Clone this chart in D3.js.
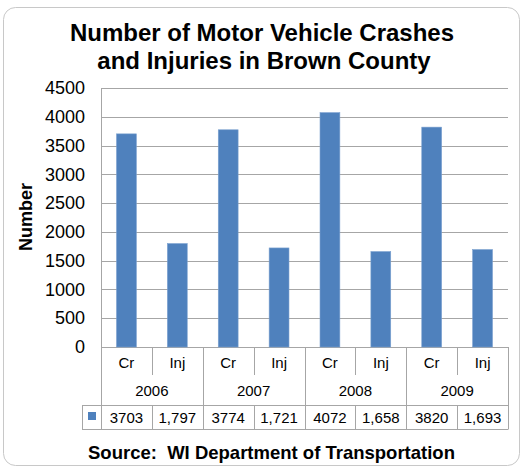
<!DOCTYPE html>
<html><head><meta charset="utf-8">
<script src="https://cdn.jsdelivr.net/npm/d3@7"></script>
<style>body{margin:0;background:#fff}svg{display:block}text{font-family:"Liberation Sans",Arial,sans-serif}</style>
</head><body><svg id="c" width="522" height="469"></svg>
<script>
const years = ["2006","2007","2008","2009"];
const kinds = ["Cr","Inj"];
const values = [3703,1797,3774,1721,4072,1658,3820,1693];
const valueLabels = ["3703","1,797","3774","1,721","4072","1,658","3820","1,693"];
const yTicks = [0,500,1000,1500,2000,2500,3000,3500,4000,4500];

const svg = d3.select("#c");
const L=101, R=508, T=88, B=347;
const cats = years.flatMap(y=>kinds.map(k=>y+"|"+k));
const x = d3.scaleBand().domain(cats).range([L,R]);
const xg = d3.scaleBand().domain(years).range([L,R]);
const y = d3.scaleLinear().domain([0,4500]).range([B,T]);
const grid="#a6a6a6";

svg.append("rect").attr("x",3.5).attr("y",7.5).attr("width",516).attr("height",458).attr("rx",12)
  .attr("fill","#fff").attr("stroke","#c8c8c8");

svg.append("text").attr("x",262).attr("y",41).attr("text-anchor","middle").attr("font-size",24).attr("font-weight","bold").text("Number of Motor Vehicle Crashes");
svg.append("text").attr("x",264).attr("y",69).attr("text-anchor","middle").attr("font-size",24).attr("font-weight","bold").text("and Injuries in Brown County");

// gridlines
svg.append("g").selectAll("line").data(yTicks).join("line")
  .attr("x1",L).attr("x2",R).attr("y1",d=>Math.round(y(d))+0.5).attr("y2",d=>Math.round(y(d))+0.5)
  .attr("stroke",grid);
// y axis
const ya = svg.append("g").attr("transform",`translate(${L},0)`).call(d3.axisLeft(y).tickValues(yTicks).tickFormat(d3.format("d")).tickSize(0).tickPadding(16));
ya.select(".domain").remove();
ya.selectAll("text").attr("font-size",18).attr("fill","#000").attr("font-family","Liberation Sans, Arial, sans-serif");
svg.append("line").attr("x1",L+0.5).attr("x2",L+0.5).attr("y1",T).attr("y2",429).attr("stroke",grid);

svg.append("text").attr("transform","translate(32,217) rotate(-90)").attr("text-anchor","middle")
  .attr("font-size",18).attr("font-weight","bold").text("Number");

// bars
const bw = x.bandwidth()*0.39;
svg.append("g").selectAll("rect").data(values).join("rect")
  .attr("x",(d,i)=>x(cats[i])+(x.bandwidth()-bw)/2).attr("width",bw)
  .attr("y",d=>y(d)).attr("height",d=>B-y(d))
  .attr("fill","#4f81bd").attr("stroke","#7aa0cf").attr("stroke-width",0.6);

// table
const tb = svg.append("g");
const rowCatB=375, rowYearB=405, rowDataB=429;
cats.forEach((c,i)=>{
  const xx=Math.round(x(c))+0.5;
  if(i%2===1) tb.append("line").attr("x1",xx).attr("x2",xx).attr("y1",B).attr("y2",rowCatB).attr("stroke",grid);
});
years.forEach((yr,i)=>{
  if(i>0){const xx=Math.round(xg(yr))+0.5; tb.append("line").attr("x1",xx).attr("x2",xx).attr("y1",B).attr("y2",rowYearB).attr("stroke",grid);}
});
tb.append("line").attr("x1",R+0.5).attr("x2",R+0.5).attr("y1",B).attr("y2",rowDataB).attr("stroke",grid);
tb.append("line").attr("x1",82).attr("x2",R+0.5).attr("y1",rowYearB+0.5).attr("y2",rowYearB+0.5).attr("stroke",grid);
tb.append("line").attr("x1",82).attr("x2",R+0.5).attr("y1",rowDataB+0.5).attr("y2",rowDataB+0.5).attr("stroke",grid);
tb.append("line").attr("x1",82.5).attr("x2",82.5).attr("y1",rowYearB).attr("y2",rowDataB).attr("stroke",grid);
cats.forEach((c,i)=>{
  if(i>0){const xx=Math.round(x(c))+0.5; tb.append("line").attr("x1",xx).attr("x2",xx).attr("y1",rowYearB).attr("y2",rowDataB).attr("stroke",grid);}
});
tb.append("rect").attr("x",88).attr("y",412).attr("width",8).attr("height",8).attr("fill","#4f81bd");
tb.selectAll("text.k").data(cats).join("text").attr("class","k")
  .attr("x",c=>x(c)+x.bandwidth()/2).attr("y",368).attr("text-anchor","middle").attr("font-size",15).text(c=>c.split("|")[1]);
tb.selectAll("text.yr").data(years).join("text").attr("class","yr")
  .attr("x",d=>xg(d)+xg.bandwidth()/2).attr("y",396).attr("text-anchor","middle").attr("font-size",15).text(d=>d);
tb.selectAll("text.v").data(valueLabels).join("text").attr("class","v")
  .attr("x",(d,i)=>x(cats[i])+x.bandwidth()/2).attr("y",423).attr("text-anchor","middle").attr("font-size",15).text(d=>d);

svg.append("text").attr("x",88).attr("y",459).attr("font-size",18.5).attr("font-weight","bold").style("white-space","pre").text("Source:  WI Department of Transportation");
</script></body></html>
